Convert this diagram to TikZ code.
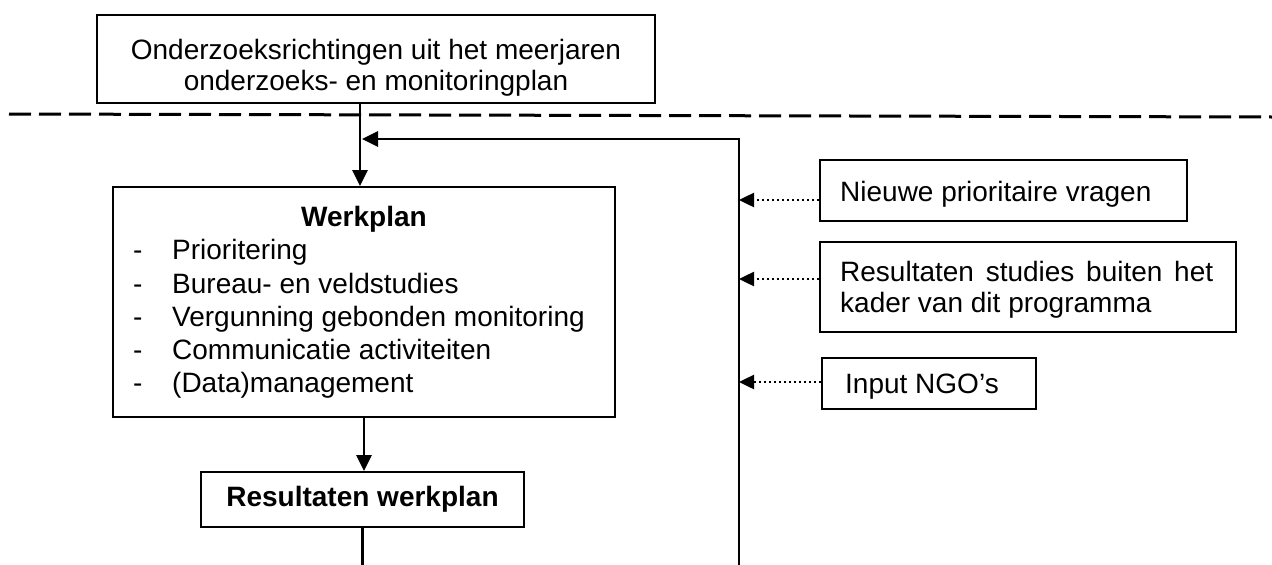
\documentclass[tikz,border=0pt]{standalone}
\usepackage{fontspec}
\setmainfont{Liberation Sans}
\usetikzlibrary{arrows.meta}
\begin{document}
\begin{tikzpicture}[x=1pt,y=-1pt,
  box/.style={draw, line width=1.8pt, inner sep=0pt},
  txt/.style={inner sep=0pt, anchor=base west, font=\fontsize{28}{33}\selectfont},
  ctxt/.style={inner sep=0pt, anchor=base, font=\fontsize{28}{33}\selectfont},
  boldtxt/.style={inner sep=0pt, anchor=base, font=\bfseries\fontsize{28}{33}\selectfont},
  flow/.style={line width=2.8pt, -{Triangle[length=16pt,width=15pt]}},
  feed/.style={line width=2.5pt, dash pattern=on 2.5pt off 2.5pt, -{Triangle[length=15pt,width=14pt]}},
  plainline/.style={line width=2.8pt},
  sepline/.style={line width=3pt, dash pattern=on 22pt off 8pt}]
\useasboundingbox (0,0) rectangle (1272,565);

% top box
\node[box, minimum width=558pt, minimum height=88pt] (top) at (376,59) {};
\node[ctxt] (tt1) at (376,59.5) {Onderzoeksrichtingen uit het meerjaren};
\node[ctxt] (tt2) at (376,90.5) {onderzoeks- en monitoringplan};

% separator
\draw[sepline] (9,114) -- (1272,117);

% werkplan
\node[box, minimum width=502pt, minimum height=230pt] (werk) at (364,302) {};
\node[boldtxt] (wt) at (364,226) {Werkplan};
\node[txt] (d1) at (133,259.5) {-}; \node[txt] (i1) at (172,259.5) {Prioritering};
\node[txt] (d2) at (133,293) {-};   \node[txt] (i2) at (172,293) {Bureau- en veldstudies};
\node[txt] (d3) at (133,326) {-};   \node[txt] (i3) at (172,326) {Vergunning gebonden monitoring};
\node[txt] (d4) at (133,359.5) {-}; \node[txt] (i4) at (172,359.5) {Communicatie activiteiten};
\node[txt] (d5) at (133,392.5) {-}; \node[txt] (i5) at (172,392.5) {(Data)management};

% resultaten werkplan
\node[box, minimum width=323pt, minimum height=55pt,
      font=\bfseries\fontsize{28}{33}\selectfont] (res) at (362.5,499.5) {Resultaten werkplan};

% right boxes
\node[box, minimum width=367pt, minimum height=61pt] (nb) at (1003.5,190.5) {};
\node[txt] (nt) at (840,201) {Nieuwe prioritaire vragen};

\node[box, minimum width=416pt, minimum height=90pt] (sb) at (1028,287) {};
\node[txt] (st1) at (840,281.5) {\makebox[373pt][s]{Resultaten studies buiten het}};
\node[txt] (st2) at (840,312.5) {kader van dit programma};

\node[box, minimum width=214pt, minimum height=51pt] (ib) at (929,383.5) {};
\node[txt] (it) at (845,393) {Input NGO’s};

% coordinates
\coordinate (fbtop) at (739,139);
\coordinate (fbbot) at (739,565);
\coordinate (fbtip) at (362,139);
\coordinate (cx) at (360,0);
\coordinate (cy) at (364,0);

% connectors
\draw[flow] (top.south -| cx) -- (werk.north -| cx);
\draw[flow] (fbbot) |- (fbtip);
\draw[flow] (werk.south -| cy) -- (res.north -| cy);
\draw[plainline] (res.south) -- (res.south |- fbbot);

\path ([yshift=-9.5pt]nb.west) coordinate (a1);
\path ([yshift=8pt]sb.west) coordinate (a2);
\path ([yshift=1.5pt]ib.west) coordinate (a3);
\draw[feed] (a1) -- (a1 -| fbtop);
\draw[feed] (a2) -- (a2 -| fbtop);
\draw[feed] (a3) -- (a3 -| fbtop);
\end{tikzpicture}
\end{document}
